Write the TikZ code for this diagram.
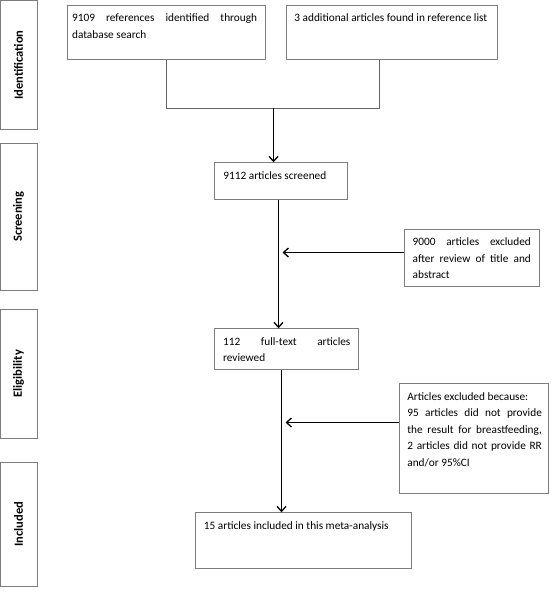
\documentclass[tikz,border=0pt]{standalone}
\usepackage{fontspec}
\setmainfont{Carlito}
\usetikzlibrary{arrows.meta,calc}
\definecolor{bordergray}{RGB}{125,125,125}
\definecolor{linegray}{RGB}{100,100,100}
\newcommand\boxtxt[5]{\parbox[c][#2][t]{#1}{\fontsize{11.3}{16.5}\selectfont\leftskip=#3\rightskip=#4\tolerance=10000\hyphenpenalty=10000\vspace*{5pt}\strut#5}}
\tikzset{
  box/.style={draw=bordergray, line width=0.8pt, inner sep=0pt, anchor=north west},
  sidebox/.style={draw=bordergray, line width=0.8pt, inner sep=0pt, rotate=90, minimum height=37pt,
    font=\fontsize{12.5}{15}\selectfont\bfseries},
  arr/.style={draw=black, line width=1.3pt, -{Straight Barb[length=5pt,width=9pt]}},
  gline/.style={draw=linegray, line width=0.9pt}
}
\begin{document}
\begin{tikzpicture}[x=1pt,y=-1pt]
\useasboundingbox (0,0) rectangle (550,592);
% side labels
\node[sidebox, minimum width=128.8pt] (s1) at (18.5,64.9) {Identification};
\node[sidebox, minimum width=146.7pt] (s2) at (18.5,216.65) {Screening};
\node[sidebox, minimum width=129pt] (s3) at (18.5,373.8) {Eligibility};
\node[sidebox, minimum width=123.7pt] (s4) at (18.5,524.15) {Included};
% boxes
\node[box] (tl) at (66.7,4.7) {\boxtxt{198pt}{54pt}{5pt}{8pt}{9109 references identified through\linebreak database search}};
\node[box] (tr) at (286,4.7) {\boxtxt{210.8pt}{54pt}{8pt}{4pt}{3 additional articles found in reference list}};
\node[box] (screen) at (214,162.3) {\boxtxt{133.4pt}{36.7pt}{9pt}{8pt}{9112 articles screened}};
\node[box] (excl1) at (403.5,228.8) {\boxtxt{135pt}{57pt}{8.8pt}{8pt}{9000 articles excluded\linebreak after review of title and\linebreak abstract}};
\node[box] (elig) at (214,328.3) {\boxtxt{144pt}{41pt}{8.7pt}{8pt}{112 full-text articles\linebreak reviewed}};
\node[box] (excl2) at (399,383.3) {\boxtxt{148.5pt}{110pt}{8pt}{6pt}{Articles excluded because:\par 95 articles did not provide\linebreak the result for breastfeeding,\linebreak 2 articles did not provide RR\linebreak and/or 95\%CI}};
\node[box] (incl) at (194.7,512.3) {\boxtxt{216.5pt}{56pt}{8.8pt}{8pt}{15 articles included in this meta-analysis}};
% connectors
\coordinate (jn) at (273.5,108.3);
\draw[gline] ([xshift=100pt]tl.south west) |- (jn) -| ([xshift=93pt]tr.south west);
\draw[arr] (jn) -- (jn |- screen.north);
\draw[arr] ([xshift=64.5pt]screen.south west) -- ([xshift=64.5pt]elig.north west);
\coordinate (a1) at (278.5,252.5);
\draw[arr] (excl1.west |- a1) -- ([xshift=4pt]a1);
\draw[arr] ([xshift=67.5pt]elig.south west) -- ([xshift=86.8pt]incl.north west);
\coordinate (a2) at (281.5,422.5);
\draw[arr] (excl2.west |- a2) -- ([xshift=4pt]a2);
\end{tikzpicture}
\end{document}
